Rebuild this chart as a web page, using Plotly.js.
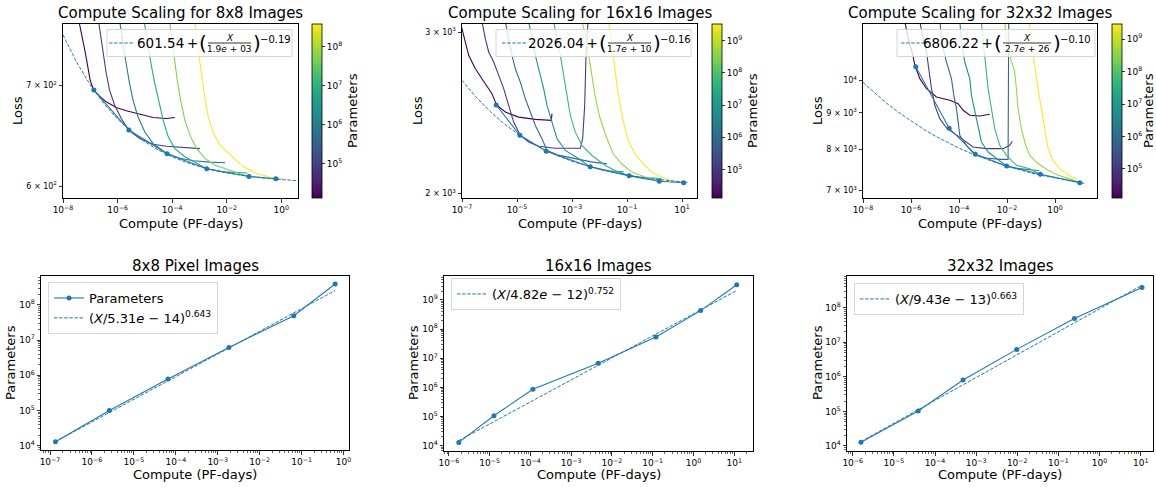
<!DOCTYPE html>
<html><head><meta charset="utf-8">
<script src="https://cdn.plot.ly/plotly-3.0.1.min.js"></script>
<style>html,body{margin:0;padding:0;background:#fff;}#chart{width:1156px;height:487px;}</style>
</head><body><div id="chart"></div>
<script>
// ---------------- DATA ----------------
// 8x8: frontier (compute-optimal) points
const compute8 = [1.35e-7, 2.6e-6, 6.5e-5, 1.85e-3, 6.5e-2, 0.63];
const loss8 = [694.7, 653.5, 630.3, 616.0, 608.8, 606.7];
const params8 = [1.3e4, 1.0e5, 7.9e5, 6.2e6, 4.9e7, 3.9e8];
// 8x8 training curves (one per model size)
const runParams8 = [1.3e4, 1.0e5, 7.9e5, 6.2e6, 4.9e7, 3.9e8];
const runCompute8 = [
  [3.66e-8, 4.22e-8, 5.30e-8, 6.64e-8, 8.09e-8, 9.86e-8, 1.31e-7, 2.17e-7, 3.83e-7, 8.93e-7, 2.09e-6, 6.45e-6, 2.00e-5, 6.18e-5, 1.25e-4],
  [1.94e-7, 2.30e-7, 2.88e-7, 3.83e-7, 5.08e-7, 7.76e-7, 1.37e-6, 2.54e-6, 6.45e-6, 2.00e-5, 6.18e-5, 2.54e-4, 1.04e-3],
  [1.15e-6, 1.49e-6, 1.97e-6, 2.61e-6, 3.66e-6, 5.60e-6, 9.86e-6, 2.00e-5, 6.55e-5, 1.91e-4, 5.93e-4, 2.44e-3, 8.69e-3],
  [9.06e-6, 1.20e-5, 1.59e-5, 2.17e-5, 3.14e-5, 4.67e-5, 7.13e-5, 1.25e-4, 2.92e-4, 7.87e-4, 1.84e-3, 7.54e-3, 3.10e-2, 5.7e-2],
  [7.76e-5, 9.73e-5, 1.22e-4, 1.53e-4, 2.03e-4, 2.92e-4, 4.73e-4, 7.87e-4, 1.59e-3, 3.72e-3, 1.15e-2, 2.33e-2, 6.5e-2],
  [6.64e-4, 8.09e-4, 1.01e-3, 1.27e-3, 1.55e-3, 2.11e-3, 3.23e-3, 5.69e-3, 1.00e-2, 1.76e-2, 3.10e-2, 5.44e-2, 0.127, 0.297, 0.63, 1.15]
];
const runLoss8 = [
  [775, 765.6, 749.9, 734.7, 720.0, 705.4, 694.7, 688.3, 682.3, 676.5, 673.0, 669.2, 666.2, 665.1, 666.2],
  [775, 757.7, 734.7, 712.8, 694.7, 679.0, 665.1, 653.5, 645.1, 639.5, 637.6, 636.3, 635.3],
  [775, 749.9, 727.3, 705.4, 684.1, 666.9, 651.8, 640.1, 630.3, 625.9, 623.6, 622.3, 621.7],
  [775, 749.9, 727.3, 705.4, 684.1, 663.4, 647.0, 635.3, 627.5, 621.7, 616.0, 613.1, 612.0, 612.0],
  [775, 749.9, 727.3, 705.4, 684.1, 663.4, 647.0, 635.3, 625.9, 619.4, 615.1, 612.2, 608.8],
  [775, 749.9, 727.3, 705.4, 687.6, 666.9, 650.2, 638.8, 632.3, 626.7, 620.1, 616.3, 611.6, 609.0, 606.9, 606.7]
];
// 8x8 fitted loss curve
const fitCompute8 = [1e-8, 3.16e-8, 1e-7, 3.16e-7, 1e-6, 3.16e-6, 1e-5, 3.16e-5, 1e-4, 3.16e-4, 1e-3, 3.16e-3, 1e-2, 3.16e-2, 0.1, 0.316, 1, 3.16, 4.1];
const fitLoss8 = [755.7, 724.9, 700.1, 680.4, 664.6, 652.0, 641.9, 633.8, 627.4, 622.2, 618.1, 614.7, 612.1, 610.0, 608.3, 607.0, 605.9, 605.0, 604.8];
// 8x8 parameter fit (dashed line end points)
const pfitCompute8 = [1.35e-7, 0.63];
const pfitParams8 = [1.31e4, 2.55e8];

// 16x16
const compute16 = [1.75e-6, 1.27e-5, 1.15e-4, 4.6e-3, 0.12, 1.5, 11.5];
const loss16 = [2497, 2314, 2223, 2137, 2089, 2061, 2053];
const params16 = [1.3e4, 1.07e5, 8.6e5, 6.7e6, 5.4e7, 4.3e8, 3.3e9];
const runParams16 = [1.3e4, 1.07e5, 8.6e5, 6.7e6, 5.4e7, 4.3e8, 3.3e9];
const runCompute16 = [
  [9.3e-8, 1.0e-7, 1.32e-7, 1.75e-7, 3.05e-7, 5.33e-7, 8.11e-7, 1.23e-6, 1.82e-6, 3.77e-6, 1.15e-5, 4.64e-5, 1.77e-4, 1.87e-4],
  [5.05e-7, 5.33e-7, 7.05e-7, 9.33e-7, 1.42e-6, 2.16e-6, 3.28e-6, 4.98e-6, 7.57e-6, 1.32e-5, 2.65e-5, 6.14e-5, 2.48e-4, 2.01e-3, 2.44e-3, 2.89e-3, 3.23e-3, 3.82e-3, 3.9e-3],
  [3.56e-6, 3.77e-6, 4.98e-6, 6.58e-6, 8.69e-6, 1.32e-5, 2.01e-5, 3.05e-5, 4.64e-5, 8.11e-5, 1.23e-4, 3.10e-4, 1.25e-3, 5.05e-3, 1.87e-2],
  [2.51e-5, 2.65e-5, 3.51e-5, 4.64e-5, 7.05e-5, 9.33e-5, 1.23e-4, 1.87e-4, 2.85e-4, 5.73e-4, 1.75e-3, 4.6e-3, 2.04e-2, 7.57e-2],
  [2.04e-4, 2.15e-4, 2.85e-4, 3.77e-4, 4.98e-4, 6.58e-4, 8.69e-4, 1.32e-3, 2.31e-3, 5.33e-3, 1.63e-2, 4.71e-2, 0.12, 0.439, 1.77],
  [2.12e-3, 2.25e-3, 3.32e-3, 4.77e-3, 6.67e-3, 1.01e-2, 1.77e-2, 3.10e-2, 6.22e-2, 0.144, 0.439, 1.5],
  [2.04e-2, 2.10e-2, 2.69e-2, 3.56e-2, 4.71e-2, 7.16e-2, 0.109, 0.190, 0.382, 0.768, 2.34, 5.41, 11.5]
];
const runLoss16 = [
  [3041, 3026, 2925, 2829, 2735, 2667, 2623, 2569, 2496, 2453, 2422, 2408, 2402, 2443],
  [3105, 3076, 2950, 2853, 2782, 2690, 2602, 2494, 2392, 2313, 2275, 2251, 2239, 2239, 2294, 2494, 2829, 3076, 3110],
  [3105, 3076, 2950, 2829, 2735, 2645, 2537, 2453, 2371, 2294, 2227, 2201, 2182, 2164, 2153],
  [3105, 3076, 2950, 2829, 2690, 2602, 2494, 2392, 2294, 2227, 2181, 2137, 2116, 2110],
  [3105, 3076, 2950, 2829, 2690, 2558, 2432, 2332, 2255, 2199, 2144, 2110, 2089, 2080, 2075],
  [3105, 3092, 2940, 2749, 2570, 2424, 2304, 2210, 2155, 2110, 2084, 2061],
  [3105, 3092, 2940, 2749, 2570, 2404, 2286, 2210, 2155, 2110, 2075, 2061, 2053]
];
const fitCompute16 = [1e-7, 3.16e-7, 1e-6, 3.16e-6, 1e-5, 3.16e-5, 1e-4, 3.16e-4, 1e-3, 3.16e-3, 1e-2, 3.16e-2, 0.1, 0.316, 1, 3.16, 10, 15.8];
const fitLoss16 = [2657, 2550, 2460, 2386, 2325, 2274, 2231, 2196, 2167, 2143, 2123, 2107, 2093, 2081, 2072, 2064, 2058, 2055];
const pfitCompute16 = [1.75e-6, 11.5];
const pfitParams16 = [1.5e4, 2.1e9];

// 32x32
const compute32 = [1.58e-6, 3.9e-5, 4.8e-4, 9.7e-3, 0.245, 10.8];
const loss32 = [10452, 8564, 7874, 7582, 7380, 7184];
const params32 = [1.28e4, 1.03e5, 8.1e5, 6.25e6, 4.93e7, 3.88e8];
const runParams32 = [1.28e4, 1.03e5, 8.1e5, 6.25e6, 4.93e7, 3.88e8, 2.9e9];
const runCompute32 = [
  [5.21e-7, 5.56e-7, 7.64e-7, 1.20e-6, 1.45e-6, 2.34e-6, 4.43e-6, 1.15e-5, 4.14e-5, 9.2e-5, 1.49e-4, 2.81e-4, 7.33e-4, 1.91e-3],
  [2.26e-6, 2.34e-6, 3.22e-6, 4.43e-6, 5.72e-6, 7.15e-6, 9.84e-6, 1.59e-5, 3.01e-5, 7.85e-5, 2.05e-4, 3.87e-4, 1.39e-3, 6.86e-3, 1.30e-2, 1.68e-2],
  [1.59e-5, 1.86e-5, 3.01e-5, 4.86e-5, 6.08e-5, 7.85e-5, 9.2e-5, 1.08e-4, 2.05e-4, 4.54e-4, 1.39e-3, 4.99e-3, 1.11e-2, 1.18e-2, 1.18e-2],
  [1.06e-4, 1.08e-4, 1.27e-4, 1.74e-4, 2.81e-4, 3.30e-4, 4.54e-4, 6.25e-4, 8.61e-4, 1.63e-3, 3.62e-3, 9.44e-3, 2.80e-2, 0.100, 0.223],
  [8.4e-4, 8.61e-4, 1.01e-3, 1.30e-3, 1.63e-3, 2.24e-3, 3.09e-3, 4.99e-3, 9.44e-3, 2.46e-2, 8.83e-2, 0.245],
  [7.8e-3, 8.05e-3, 9.44e-3, 1.30e-2, 2.10e-2, 2.46e-2, 2.89e-2, 3.97e-2, 6.01e-2, 8.83e-2, 0.190, 0.495, 1.29, 4.64, 10.8],
  [8.3e-2, 8.55e-2, 0.100, 0.129, 0.190, 0.261, 0.360, 0.495, 0.80, 1.51, 2.87, 5.43, 8.77]
];
const runLoss32 = [
  [12218, 12075, 11442, 10841, 10497, 10054, 9734, 9476, 9374, 9275, 9077, 8932, 8911, 8961],
  [12218, 12075, 11442, 10960, 10273, 9734, 9224, 8835, 8573, 8372, 8193, 8061, 8018, 8018, 8105, 8212],
  [12218, 11319, 10610, 10054, 9526, 9125, 8742, 8372, 8105, 7864, 7781, 7746, 7746, 9797, 12218],
  [12218, 12075, 11319, 10610, 10054, 9526, 9027, 8554, 8193, 7932, 7762, 7580, 7523, 7483, 7467],
  [12218, 12075, 11319, 10497, 9734, 9125, 8554, 8105, 7847, 7597, 7515, 7378],
  [12218, 12075, 11442, 10841, 10273, 9734, 9125, 8554, 8105, 7847, 7647, 7483, 7362, 7260, 7184],
  [12218, 12154, 11393, 10679, 9797, 9184, 8609, 8070, 7729, 7523, 7402, 7307, 7268]
];
const fitCompute32 = [1e-8, 3.16e-8, 1e-7, 3.16e-7, 1e-6, 3.16e-6, 1e-5, 3.16e-5, 1e-4, 3.16e-4, 1e-3, 3.16e-3, 1e-2, 3.16e-2, 0.1, 0.316, 1, 3.16, 10, 16.6];
const fitLoss32 = [9932, 9586, 9278, 9009, 8765, 8548, 8355, 8186, 8033, 7897, 7777, 7671, 7575, 7490, 7414, 7348, 7288, 7235, 7187, 7168];
const pfitCompute32 = [1.58e-6, 10.8];
const pfitParams32 = [1.34e4, 4.5e8];

// text labels
const topTitles = ['Compute Scaling for 8x8 Images', 'Compute Scaling for 16x16 Images', 'Compute Scaling for 32x32 Images'];
const bottomTitles = ['8x8 Pixel Images', '16x16 Images', '32x32 Images'];
const fitConst = ['601.54\u2009+', '2026.04\u2009+', '6806.22\u2009+'];
const fitScale = ['1.9<i>e</i> + 03', '1.7<i>e</i> + 10', '2.7<i>e</i> + 26'];
const fitExp = ['−0.19', '−0.16', '−0.10'];
const paramFitLabels = ['(<i>X</i>/5.31<i>e</i> − 14)<sup>0.643</sup>', '(<i>X</i>/4.82<i>e</i> − 12)<sup>0.752</sup>', '(<i>X</i>/9.43<i>e</i> − 13)<sup>0.663</sup>'];

// ---------------- STYLE / LAYOUT ----------------
const W = 1156, H = 487;
const BLUE = '#1f77b4';
const FONT = 'DejaVu Sans, sans-serif';
const DASH = '3.5px,1.6px';
const VIR = ['#440154','#48186a','#472d7b','#424086','#3b528b','#33638d','#2c728e','#26828e','#21918c','#1fa088','#28ae80','#3fbc73','#5ec962','#84d44b','#addc30','#d8e219','#fde725'];
function hx(h){return [parseInt(h.slice(1,3),16),parseInt(h.slice(3,5),16),parseInt(h.slice(5,7),16)];}
function viridis(t){
  t = Math.max(0, Math.min(1, t));
  const f = t*16, i = Math.min(15, Math.floor(f)), r = f - i;
  const a = hx(VIR[i]), b = hx(VIR[i+1]);
  return 'rgb(' + a.map((v,k)=>Math.round(v + (b[k]-v)*r)).join(',') + ')';
}
const PX = x => x / W, PY = y => 1 - y / H;
const sup = e => '10<sup>' + (e < 0 ? '−' + (-e) : e) + '</sup>';
function decades(a, b, step){ const v=[]; for(let e=a; e<=b; e+=step) v.push(e); return v; }
function minorVals(lo, hi){
  const v=[];
  for(let e=Math.floor(lo)-1; e<=Math.ceil(hi); e++) for(let k=2;k<=9;k++){
    const val=k*Math.pow(10,e), l=Math.log10(val);
    if(l>=lo && l<=hi) v.push(val);
  }
  return v;
}
function axis(extra){
  return Object.assign({
    type:'log', showgrid:false, zeroline:false, showline:true, mirror:true,
    linecolor:'#000', linewidth:1, ticks:'outside', ticklen:3.5, tickwidth:0.8, tickcolor:'#000',
    tickfont:{family:FONT, size:9, color:'#000'}, tickmode:'array', fixedrange:true
  }, extra);
}

const topPanels = [
  {comp:compute8, loss:loss8, rc:runCompute8, rl:runLoss8, rp:runParams8, fc:fitCompute8, fl:fitLoss8,
   xd:[63,298], yd:[24,198], xr:[-8,0.61], yr:[2.7702,2.8856], xe:decades(-8,0,2),
   yt:[600,700], ytt:['6 × 10<sup>2</sup>','7 × 10<sup>2</sup>'], cb:312, cbt:[5,6,7,8],
   leg:{boxL:107, boxR:292, l0:109, l1:134, barL:207, barR:252}, lossX:17, cbTitleX:352},
  {comp:compute16, loss:loss16, rc:runCompute16, rl:runLoss16, rp:runParams16, fc:fitCompute16, fl:fitLoss16,
   xd:[462,697], yd:[24,197.5], xr:[-7,1.545], yr:[3.2963,3.4859], xe:decades(-7,1,2),
   yt:[2000,3000], ytt:['2 × 10<sup>3</sup>','3 × 10<sup>3</sup>'], cb:712, cbt:[5,6,7,8,9],
   leg:{boxL:496, boxR:691, l0:502, l1:527, barL:607, barR:652}, lossX:417, cbTitleX:752},
  {comp:compute32, loss:loss32, rc:runCompute32, rl:runLoss32, rp:runParams32, fc:fitCompute32, fl:fitLoss32,
   xd:[863,1097], yd:[24,198], xr:[-8,1.75], yr:[3.8348,4.0791], xe:decades(-8,0,2),
   yt:[7000,8000,9000,10000], ytt:['7 × 10<sup>3</sup>','8 × 10<sup>3</sup>','9 × 10<sup>3</sup>','10<sup>4</sup>'], cb:1112, cbt:[5,6,7,8,9],
   leg:{boxL:897, boxR:1095, l0:901, l1:927, barL:1002, barR:1052}, lossX:817, cbTitleX:1148}
];
const bottomPanels = [
  {comp:compute8, par:params8, fc:pfitCompute8, fp:pfitParams8, xd:[41,349], yd:[276,450], xr:[-7.215,0.13], yr:[3.88,8.82],
   xe:decades(-7,0,1), ye:decades(4,8,1), leg:[48,282], parX:10},
  {comp:compute16, par:params16, fc:pfitCompute16, fp:pfitParams16, xd:[444,753], yd:[276,451], xr:[-6.12,1.46], yr:[3.82,9.82],
   xe:decades(-6,1,1), ye:decades(4,9,1), leg:[451,278], parX:413},
  {comp:compute32, par:params32, fc:pfitCompute32, fp:pfitParams32, xd:[847,1153], yd:[276,451], xr:[-6.14,1.30], yr:[3.855,8.92],
   xe:decades(-6,1,1), ye:decades(4,8,1), leg:[854,283], parX:817}
];

const traces = [];
const layout = {
  width:W, height:H, margin:{l:0,r:0,t:0,b:0,pad:0},
  paper_bgcolor:'#fff', plot_bgcolor:'#fff', showlegend:true,
  font:{family:FONT, color:'#000'}, annotations:[], shapes:[]
};
function ann(text, x, y, size, extra){
  layout.annotations.push(Object.assign({text, x:PX(x), y:PY(y), xref:'paper', yref:'paper', showarrow:false,
    font:{family:FONT, size, color:'#000'}, xanchor:'center', yanchor:'middle', borderpad:0}, extra||{}));
}

topPanels.forEach((p, i) => {
  const s = i === 0 ? '' : String(i+1);
  const xa = 'x'+s, ya = 'y'+s;
  const lmin = Math.log10(Math.min(...p.rp)), lmax = Math.log10(Math.max(...p.rp));
  layout['xaxis'+s] = axis({domain:[PX(p.xd[0]), PX(p.xd[1])], anchor:ya, range:p.xr,
    tickvals:p.xe.map(e=>Math.pow(10,e)), ticktext:p.xe.map(sup)});
  layout['yaxis'+s] = axis({domain:[PY(p.yd[1]), PY(p.yd[0])], anchor:xa, range:p.yr,
    tickvals:p.yt, ticktext:p.ytt, tickfont:{family:FONT,size:8,color:'#000'}});
  // training curves
  p.rc.forEach((xs, j) => {
    traces.push({type:'scatter', mode:'lines', x:xs, y:p.rl[j], xaxis:xa, yaxis:ya,
      line:{color:viridis((Math.log10(p.rp[j]) - lmin)/(lmax - lmin)), width:1.1},
      showlegend:false, hoverinfo:'skip'});
  });
  // frontier
  traces.push({type:'scatter', mode:'lines+markers', x:p.comp, y:p.loss, xaxis:xa, yaxis:ya,
    line:{color:BLUE, width:1.1}, marker:{color:BLUE, size:5}, showlegend:false, hoverinfo:'skip'});
  // fit
  traces.push({type:'scatter', mode:'lines', x:p.fc, y:p.fl, xaxis:xa, yaxis:ya,
    line:{color:BLUE, width:1, dash:DASH}, showlegend:false, hoverinfo:'skip'});
  // colorbar carrier
  traces.push({type:'scatter', mode:'markers', x:[p.comp[0], p.comp[1]], y:[p.loss[0], p.loss[1]], xaxis:xa, yaxis:ya,
    marker:{size:1, opacity:0, color:[lmin, lmax], cmin:lmin, cmax:lmax, colorscale:'Viridis', showscale:true,
      colorbar:{x:PX(p.cb), xanchor:'left', y:PY(p.yd[0]), yanchor:'top', len:p.yd[1]-p.yd[0], lenmode:'pixels',
        thickness:10, thicknessmode:'pixels', xpad:0, ypad:0, outlinewidth:0.8, outlinecolor:'#000',
        tickmode:'array', tickvals:p.cbt, ticktext:p.cbt.map(sup), ticks:'outside', ticklen:3, tickwidth:0.8,
        tickcolor:'#000', tickfont:{family:FONT, size:9, color:'#000'}}},
    showlegend:false, hoverinfo:'skip'});
  // titles
  const cx = (p.xd[0]+p.xd[1])/2;
  ann(topTitles[i], cx, 13, 15);
  ann('Compute (PF-days)', cx, 224, 13);
  ann('Loss', p.lossX, 111, 13, {textangle:-90});
  ann('Parameters', p.cbTitleX, 111, 13, {textangle:-90});
  // legend (manual, with fraction)
  const L = p.leg, ly = 43;
  layout.shapes.push({type:'rect', xref:'paper', yref:'paper', x0:PX(L.boxL), x1:PX(L.boxR), y0:PY(29.5), y1:PY(56.5),
    fillcolor:'rgba(255,255,255,0.8)', line:{color:'#d6d6d6', width:1}, layer:'above'});
  layout.shapes.push({type:'line', xref:'paper', yref:'paper', x0:PX(L.l0), x1:PX(L.l1), y0:PY(ly), y1:PY(ly),
    line:{color:BLUE, width:1, dash:DASH}, layer:'above'});
  layout.shapes.push({type:'line', xref:'paper', yref:'paper', x0:PX(L.barL+1), x1:PX(L.barR-1), y0:PY(ly), y1:PY(ly),
    line:{color:'#000', width:0.8}, layer:'above'});
  ann(fitConst[i], L.barL-8, ly-0.5, 13.5, {xanchor:'right'});
  ann('(', L.barL+0.5, ly, 20, {xanchor:'right'});
  ann(')', L.barR-0.5, ly, 20, {xanchor:'left'});
  ann('<i>X</i>', (L.barL+L.barR)/2, ly-5, 9);
  ann(fitScale[i], (L.barL+L.barR)/2, ly+6, 9);
  ann(fitExp[i], L.barR+7, ly-4, 10, {xanchor:'left'});
});

bottomPanels.forEach((p, i) => {
  const n = i + 4, s = String(n), xa = 'x'+s, ya = 'y'+s, lg = 'legend'+s;
  layout['xaxis'+s] = axis({domain:[PX(p.xd[0]), PX(p.xd[1])], anchor:ya, range:p.xr,
    tickvals:p.xe.map(e=>Math.pow(10,e)), ticktext:p.xe.map(sup),
    minor:{tickmode:'array', tickvals:minorVals(p.xr[0], p.xr[1]), ticks:'outside', ticklen:2, tickwidth:0.6, tickcolor:'#000', showgrid:false}});
  layout['yaxis'+s] = axis({domain:[PY(p.yd[1]), PY(p.yd[0])], anchor:xa, range:p.yr,
    tickvals:p.ye.map(e=>Math.pow(10,e)), ticktext:p.ye.map(sup),
    minor:{tickmode:'array', tickvals:minorVals(p.yr[0], p.yr[1]), ticks:'outside', ticklen:2, tickwidth:0.6, tickcolor:'#000', showgrid:false}});
  traces.push({type:'scatter', mode:'lines+markers', name:'Parameters', x:p.comp, y:p.par, xaxis:xa, yaxis:ya,
    line:{color:BLUE, width:1.1}, marker:{color:BLUE, size:5}, showlegend:i===0, legend:lg, hoverinfo:'skip'});
  traces.push({type:'scatter', mode:'lines', name:paramFitLabels[i], x:p.fc, y:p.fp, xaxis:xa, yaxis:ya,
    line:{color:BLUE, width:1, dash:DASH}, showlegend:true, legend:lg, hoverinfo:'skip'});
  layout[lg] = {x:PX(p.leg[0]), y:PY(p.leg[1]), xanchor:'left', yanchor:'top', bgcolor:'rgba(255,255,255,0.8)',
    bordercolor:'#d6d6d6', borderwidth:1, font:{family:FONT, size:13, color:'#000'}, itemwidth:30, tracegroupgap:0};
  const cx = (p.xd[0]+p.xd[1])/2;
  ann(bottomTitles[i], cx, 266, 15);
  ann('Compute (PF-days)', cx, 474, 13);
  ann('Parameters', p.parX, 363, 13, {textangle:-90});
});

Plotly.newPlot('chart', traces, layout, {staticPlot:true, displayModeBar:false});
</script></body></html>
